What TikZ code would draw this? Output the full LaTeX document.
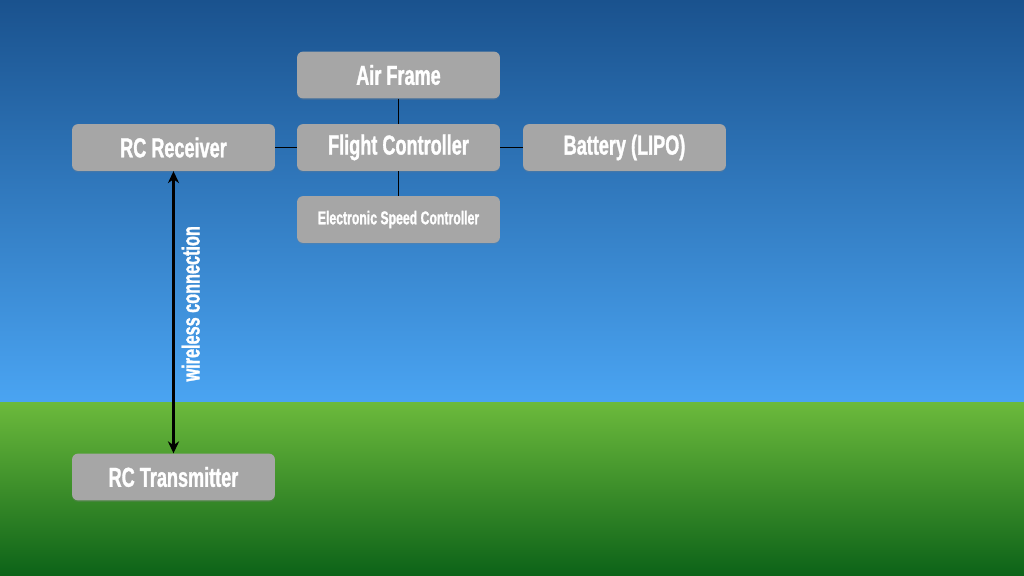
\documentclass[tikz,border=0pt]{standalone}
\usepackage{fontspec}
\newfontfamily\boxfont[FakeStretch=0.66, FakeBold=1.2]{Liberation Sans Bold}
\usetikzlibrary{positioning, arrows.meta, shadows}
\definecolor{skytop}{RGB}{26,82,142}
\definecolor{skybottom}{RGB}{74,164,242}
\definecolor{grasstop}{RGB}{108,186,60}
\definecolor{grassbottom}{RGB}{12,98,24}
\definecolor{boxgray}{RGB}{166,166,166}

\begin{document}
\begin{tikzpicture}[x=0.025cm, y=-0.025cm,
  part/.style={rectangle, rounded corners=0.15cm, fill=boxgray, minimum width=5.07cm,
    minimum height=1.17cm, inner sep=0pt, text=white, font=\boxfont\fontsize{19.5}{21}\selectfont,
    drop shadow={opacity=0.25, shadow xshift=0pt, shadow yshift=-1pt}},
  link/.style={black, line width=0.6pt},
  radio/.style={{Stealth[length=0.3cm, width=0.28cm]}-{Stealth[length=0.3cm, width=0.28cm]}, line width=2pt, black}
]
  % sky and ground
  \fill[top color=skytop, bottom color=skybottom] (0,0) rectangle (1024,402);
  \fill[top color=grasstop, bottom color=grassbottom] (0,402) rectangle (1024,576);
  \useasboundingbox (0,0) rectangle (1024,576);

  \node[part] (frame) at (398.5,75) {Air Frame};
  \node[part] (fc) at (398.5,147.5) {Flight Controller};
  \node[part] (rx) at (173.5,147.5) {RC Receiver};
  \node[part] (lipo) at (624.5,147.5) {Battery (LIPO)};
  \node[part, font=\boxfont\fontsize{13.2}{15}\selectfont] (esc) at (398.5,219.5) {Electronic Speed Controller};
  \node[part] (tx) at (173.5,477) {RC Transmitter};

  \draw[link] (frame) -- (fc);
  \draw[link] (rx) -- (fc);
  \draw[link] (fc) -- (lipo);
  \draw[link] (fc) -- (esc);

  \draw[radio] (rx.south) -- (tx.north)
    node[pos=0.47, rotate=90, anchor=north, text=white,
      font=\boxfont\fontsize{17.5}{19}\selectfont, yshift=-1.5pt] (wl) {wireless connection};
\end{tikzpicture}
\end{document}
